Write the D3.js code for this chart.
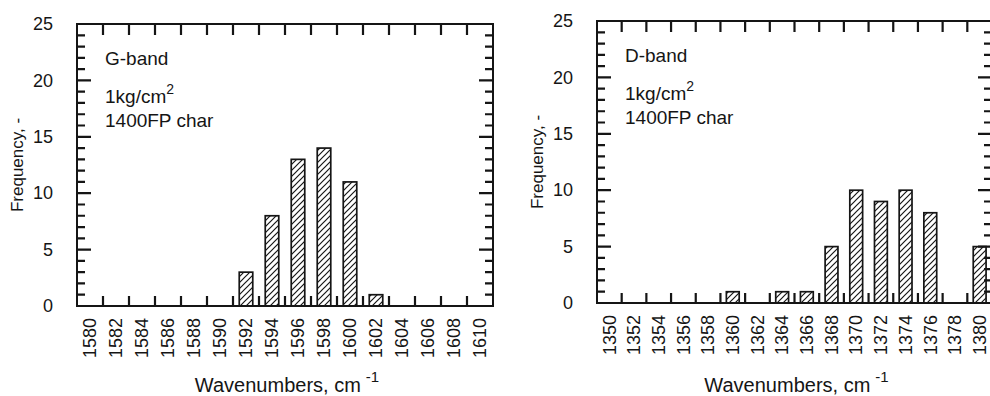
<!DOCTYPE html>
<html>
<head>
<meta charset="utf-8">
<script src="https://cdn.jsdelivr.net/npm/d3@7"></script>
<style>
	html, body { margin: 0; padding: 0; background: #fff; }
	svg { display: block; }
</style>
</head>
<body>
<div id="chart"></div>
<script>
const WIDTH = 990;
const HEIGHT = 396;
const FONT = "'Liberation Sans', Arial, Helvetica, sans-serif";
const INK = '#151515';

// G-band histogram (left panel)
const G_WAVENUMBERS = [1580, 1582, 1584, 1586, 1588, 1590, 1592, 1594, 1596, 1598, 1600, 1602, 1604, 1606, 1608, 1610];
const G_COUNTS = [0, 0, 0, 0, 0, 0, 3, 8, 13, 14, 11, 1, 0, 0, 0, 0];
const G_TITLE = 'G-band';

// D-band histogram (right panel)
const D_WAVENUMBERS = [1350, 1352, 1354, 1356, 1358, 1360, 1362, 1364, 1366, 1368, 1370, 1372, 1374, 1376, 1378, 1380];
const D_COUNTS = [0, 0, 0, 0, 0, 1, 0, 1, 1, 5, 10, 9, 10, 8, 0, 5];
const D_TITLE = 'D-band';

const Y_TICKS = [0, 5, 10, 15, 20, 25];
const Y_MINOR_TICKS = [1, 2, 3, 4, 6, 7, 8, 9, 11, 12, 13, 14, 16, 17, 18, 19, 21, 22, 23, 24];
const Y_DOMAIN = [0, 25];
const PRESSURE = '1kg/cm';
const SAMPLE = '1400FP char';
const X_LABEL = 'Wavenumbers, cm';
const Y_LABEL = 'Frequency, -';

const svg = d3.select('#chart')
	.append('svg')
	.attr('width', WIDTH)
	.attr('height', HEIGHT);

// hatch fill for the bars
svg.append('defs')
	.append('pattern')
	.attr('id', 'hatch')
	.attr('patternUnits', 'userSpaceOnUse')
	.attr('width', 6)
	.attr('height', 6)
	.call(p => p.append('rect').attr('width', 6).attr('height', 6).attr('fill', '#fff'))
	.append('path')
	.attr('d', 'M-1,1 l2,-2 M0,6 l6,-6 M5,7 l2,-2')
	.attr('stroke', INK)
	.attr('stroke-width', 1.2);

const styleText = (sel, size) => sel
	.style('font-family', FONT)
	.style('font-size', `${size}px`)
	.attr('fill', INK);

/**
 * Draws a set of short tick marks as one path
 */
const drawTicks = (g, values, scale, at, dir, len) => {
	const d = values.map(v => dir === 'h'
		? `M${at},${scale(v)}h${len}`
		: `M${scale(v)},${at}v${len}`).join('');
	g.append('path')
		.attr('d', d)
		.attr('fill', 'none')
		.attr('stroke', INK)
		.attr('stroke-width', 2.2);
};

const drawPanel = (box, wavenumbers, counts, title) => {
	const { x0, x1, y0, y1 } = box;
	const g = svg.append('g');

	// scales
	const xScale = d3.scaleLinear()
		.domain([wavenumbers[0] - 1, wavenumbers[wavenumbers.length - 1] + 1])
		.range([x0, x1]);
	const yScale = d3.scaleLinear()
		.domain(Y_DOMAIN)
		.range([y1, y0]);
	const barWidth = (xScale(1) - xScale(0)) * 1.04;
	const edges = wavenumbers.slice(1).map(v => v - 1);

	// bars
	const data = wavenumbers.map((w, i) => ({ w, count: counts[i] })).filter(d => d.count > 0);
	g.selectAll('.bar')
		.data(data)
		.enter()
		.append('rect')
		.attr('class', 'bar')
		.attr('x', d => xScale(d.w) - barWidth / 2)
		.attr('width', barWidth)
		.attr('y', d => yScale(d.count))
		.attr('height', d => yScale(0) - yScale(d.count))
		.attr('fill', 'url(#hatch)')
		.attr('stroke', INK)
		.attr('stroke-width', 1.7);

	// x ticks at the bin edges, pointing inward
	drawTicks(g, edges, xScale, y0, 'v', 11);
	drawTicks(g, edges, xScale, y1, 'v', -10);

	// y ticks on both sides, pointing inward
	drawTicks(g, Y_MINOR_TICKS, yScale, x0, 'h', 8);
	drawTicks(g, Y_TICKS, yScale, x0, 'h', 14);
	drawTicks(g, Y_MINOR_TICKS, yScale, x1, 'h', -8);
	drawTicks(g, Y_TICKS, yScale, x1, 'h', -14);

	// x labels, rotated
	const xAxis = g.append('g')
		.attr('transform', `translate(0, ${y1})`)
		.call(d3.axisBottom(xScale).tickValues(wavenumbers).tickSize(0).tickFormat(d3.format('d')));
	xAxis.select('.domain').remove();
	xAxis.selectAll('text')
		.attr('transform', 'rotate(-90)')
		.attr('text-anchor', 'end')
		.attr('x', -12)
		.attr('y', 0)
		.attr('dy', '0.32em')
		.call(s => styleText(s, 18));

	// y labels
	const yAxis = g.append('g')
		.attr('transform', `translate(${x0}, 0)`)
		.call(d3.axisLeft(yScale).tickValues(Y_TICKS).tickSize(0).tickPadding(24));
	yAxis.select('.domain').remove();
	yAxis.selectAll('text')
		.call(s => styleText(s, 18));

	// frame
	g.append('rect')
		.attr('x', x0)
		.attr('y', y0)
		.attr('width', x1 - x0)
		.attr('height', y1 - y0)
		.attr('fill', 'none')
		.attr('stroke', INK)
		.attr('stroke-width', 2);

	// notes inside the plot
	g.append('text')
		.attr('x', x0 + 28)
		.attr('y', y0 + 41)
		.call(s => styleText(s, 19))
		.text(title);
	const pressure = g.append('text')
		.attr('x', x0 + 28)
		.attr('y', y0 + 79)
		.call(s => styleText(s, 19))
		.text(PRESSURE);
	pressure.append('tspan')
		.attr('dy', -9)
		.style('font-size', '14px')
		.text('2');
	g.append('text')
		.attr('x', x0 + 28)
		.attr('y', y0 + 103)
		.call(s => styleText(s, 19))
		.text(SAMPLE);

	// axis titles
	const xTitle = g.append('text')
		.attr('x', (x0 + x1) / 2 + 2)
		.attr('y', 392)
		.style('text-anchor', 'middle')
		.call(s => styleText(s, 20))
		.text(X_LABEL);
	xTitle.append('tspan')
		.attr('dx', 5)
		.attr('dy', -10)
		.style('font-size', '15px')
		.text('-1');

	g.append('text')
		.attr('transform', `translate(${x0 - 60}, ${(y0 + y1) / 2}) rotate(-90)`)
		.attr('dy', '0.35em')
		.style('text-anchor', 'middle')
		.call(s => styleText(s, 17))
		.text(Y_LABEL);
};

drawPanel({ x0: 77, x1: 493, y0: 24, y1: 306 }, G_WAVENUMBERS, G_COUNTS, G_TITLE);
drawPanel({ x0: 597, x1: 992, y0: 21, y1: 303 }, D_WAVENUMBERS, D_COUNTS, D_TITLE);
</script>
</body>
</html>
